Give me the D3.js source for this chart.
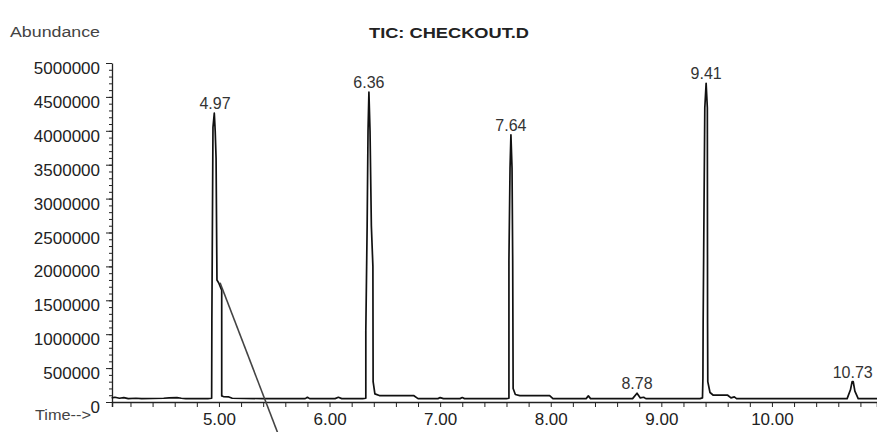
<!DOCTYPE html>
<html>
<head>
<meta charset="utf-8">
<script src="https://cdn.jsdelivr.net/npm/d3@7"></script>
<style>
  body { margin: 0; background: #fff; }
  text { font-family: "Liberation Sans", Arial, sans-serif; fill: #222; }
</style>
</head>
<body>
<div id="chart"></div>
<script>
// TIC trace, [time (min), abundance]
const tic = [
  [4.03, 60000], [4.06, 70000], [4.10, 55000], [4.14, 65000], [4.18, 50000], [4.25, 55000],
  [4.30, 50000], [4.50, 55000], [4.55, 60000], [4.62, 65000], [4.66, 55000], [4.70, 50000],
  [4.90, 50000],
  // 4.97
  [4.934, 55000], [4.936, 1200000], [4.946, 4050000], [4.958, 4260000], [4.966, 4000000],
  [4.974, 3600000], [4.982, 1800000], [5.000, 1750000], [5.025, 1650000], [5.025, 90000],
  [5.04, 80000], [5.09, 75000], [5.12, 55000],
  [5.40, 50000], [5.78, 50000], [5.80, 70000], [5.82, 50000], [6.05, 50000], [6.08, 70000],
  [6.11, 50000], [6.30, 50000],
  // 6.36
  [6.328, 55000], [6.328, 1060000], [6.340, 2600000], [6.348, 4000000], [6.356, 4570000],
  [6.366, 4000000], [6.378, 2600000], [6.392, 2000000], [6.394, 300000], [6.41, 120000],
  [6.45, 95000], [6.76, 95000], [6.80, 50000],
  [6.98, 50000], [7.00, 65000], [7.03, 50000], [7.18, 50000], [7.20, 65000], [7.22, 50000],
  [7.60, 50000],
  // 7.64
  [7.622, 55000], [7.622, 2090000], [7.632, 3450000], [7.640, 3940000], [7.650, 3450000],
  [7.656, 2090000], [7.660, 200000], [7.68, 110000], [7.72, 95000], [7.99, 95000], [8.02, 50000],
  [8.32, 50000], [8.34, 90000], [8.36, 50000], [8.74, 50000], [8.78, 130000], [8.81, 60000],
  [8.84, 70000], [8.86, 50000], [9.35, 50000],
  // 9.41
  [9.372, 60000], [9.376, 350000], [9.378, 1170000], [9.393, 4340000], [9.405, 4700000],
  [9.416, 4340000], [9.418, 1170000], [9.42, 300000], [9.44, 140000], [9.47, 100000],
  [9.60, 100000], [9.63, 60000], [9.66, 75000], [9.68, 50000],
  [10.50, 50000], [10.68, 50000], [10.71, 180000], [10.725, 300000], [10.735, 300000],
  [10.75, 160000], [10.78, 50000], [10.95, 50000]
];

// retention time labels
const peakLabels = ["4.97", "6.36", "7.64", "8.78", "9.41", "10.73"];
const peakTimes = [4.964, 6.356, 7.640, 8.78, 9.405, 10.73];

// pointer line drawn out of the first peak
const pointer = [[5.01, 1760000], [5.53, -450000]];

const yMajor = d3.range(0, 5000001, 500000);
const yMinor = d3.range(0, 5000001, 100000);
const xMajor = [5, 6, 7, 8, 9, 10];
const xMinor = d3.range(4.2, 10.95, 0.2);

const width = 877, height = 432;

const svg = d3.select("#chart").append("svg")
  .attr("width", width)
  .attr("height", height);

const x = d3.scaleLinear().domain([4.033, 10.95]).range([112, 877]);
const y = d3.scaleLinear().domain([0, 5000000]).range([402, 63]);

// y axis
svg.append("g")
  .attr("transform", "translate(112,0)")
  .call(d3.axisLeft(y).tickValues(yMinor).tickSize(3).tickFormat(""))
  .call(g => g.select(".domain").remove())
  .selectAll("line").attr("stroke", "#222");

const yAxis = svg.append("g")
  .attr("transform", "translate(112,0)")
  .call(d3.axisLeft(y).tickValues(yMajor).tickSize(6).tickSizeOuter(0).tickPadding(6).tickFormat(d3.format("d")));
yAxis.select(".domain").attr("stroke", "#222").attr("stroke-width", 1.3);
yAxis.selectAll("line").attr("stroke", "#222");
yAxis.selectAll("text")
  .attr("dy", "0.62em")
  .style("font-size", "17px")
  .style("font-family", "Liberation Sans, Arial, sans-serif")
  .attr("fill", "#222");

// x axis
svg.append("g")
  .attr("transform", "translate(0,402)")
  .call(d3.axisBottom(x).tickValues(xMinor).tickSize(5).tickFormat(""))
  .call(g => g.select(".domain").attr("stroke", "#222").attr("stroke-width", 1.5))
  .selectAll("line").attr("stroke", "#222");

const xAxis = svg.append("g")
  .attr("transform", "translate(0,402)")
  .call(d3.axisBottom(x).tickValues(xMajor).tickSize(0).tickPadding(11).tickFormat(d3.format(".2f")));
xAxis.select(".domain").remove();
xAxis.selectAll("text")
  .style("font-size", "17px")
  .style("font-family", "Liberation Sans, Arial, sans-serif")
  .attr("fill", "#222");

// trace
svg.append("path")
  .datum(tic)
  .attr("fill", "none")
  .attr("stroke", "#111")
  .attr("stroke-width", 1.7)
  .attr("stroke-linejoin", "round")
  .attr("d", d3.line().x(d => x(d[0])).y(d => y(d[1])));

svg.append("path")
  .datum(pointer)
  .attr("fill", "none")
  .attr("stroke", "#444")
  .attr("stroke-width", 1.6)
  .attr("d", d3.line().x(d => x(d[0])).y(d => y(d[1])));

// peak labels sit just above each apex
svg.append("g").selectAll("text")
  .data(peakLabels)
  .join("text")
  .attr("x", (d, i) => x(peakTimes[i]))
  .attr("y", (d, i) => {
    const apex = d3.max(tic.filter(p => Math.abs(p[0] - peakTimes[i]) < 0.06), p => p[1]);
    return y(apex) - 4;
  })
  .attr("text-anchor", "middle")
  .style("font-size", "16px")
  .style("fill", "#333")
  .text(d => d);

// titles
svg.append("text")
  .attr("x", 449).attr("y", 38)
  .attr("text-anchor", "middle")
  .attr("textLength", 160).attr("lengthAdjust", "spacingAndGlyphs")
  .style("font-size", "14px").style("font-weight", "bold")
  .text("TIC: CHECKOUT.D");

svg.append("text")
  .attr("x", 10).attr("y", 37)
  .attr("textLength", 90).attr("lengthAdjust", "spacingAndGlyphs")
  .style("font-size", "14px").style("fill", "#444")
  .text("Abundance");

svg.append("text")
  .attr("x", 35).attr("y", 420)
  .attr("textLength", 56).attr("lengthAdjust", "spacingAndGlyphs")
  .style("font-size", "14px").style("fill", "#444")
  .text("Time-->");
</script>
</body>
</html>
